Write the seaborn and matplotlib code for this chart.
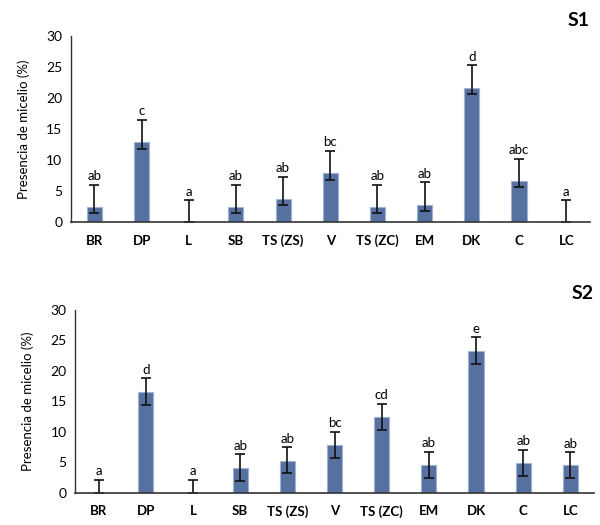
import numpy as np
import pandas as pd
import matplotlib
matplotlib.use("Agg")
import matplotlib.pyplot as plt
import seaborn as sns

# categories and values
categorias = ["BR", "DP", "L", "SB", "TS (ZS)", "V", "TS (ZC)", "EM", "DK", "C", "LC"]

s1_media = [2.45, 12.85, 0.0, 2.45, 3.65, 7.85, 2.45, 2.75, 21.7, 6.55, 0.0]
s1_err_sup = [3.6, 3.65, 3.5, 3.6, 3.7, 3.65, 3.6, 3.7, 3.6, 3.7, 3.5]
s1_err_inf = [0.95, 1.05, 0.0, 0.95, 0.95, 1.0, 0.95, 0.95, 1.0, 0.95, 0.0]
s1_letras = ["ab", "c", "a", "ab", "ab", "bc", "ab", "ab", "d", "abc", "a"]

s2_media = [0.0, 16.5, 0.0, 4.1, 5.3, 7.9, 12.45, 4.5, 23.3, 4.95, 4.5]
s2_err_sup = [2.2, 2.25, 2.2, 2.2, 2.2, 2.1, 2.15, 2.25, 2.2, 2.15, 2.2]
s2_err_inf = [0.0, 2.05, 0.0, 2.1, 2.0, 2.1, 2.15, 2.1, 2.2, 2.15, 2.1]
s2_letras = ["a", "d", "a", "ab", "ab", "bc", "cd", "ab", "e", "ab", "ab"]

paneles = ["S1", "S2"]

sns.set_theme(style="white")
plt.rcParams["font.family"] = ["Lato", "DejaVu Sans"]

color_barra = "#56709f"
color_borde = "#9fb2d4"
color_texto = "#000000"


def dibujar_panel(ax, media, err_sup, err_inf, letras, titulo):
    df = pd.DataFrame({"cat": categorias, "valor": media})
    sns.barplot(data=df, x="cat", y="valor", order=categorias, color=color_barra,
                width=0.32, saturation=1, edgecolor=color_borde, linewidth=0.8,
                errorbar=None, ax=ax)
    x = np.arange(len(categorias))
    ax.errorbar(x, media, yerr=[err_inf, err_sup], fmt="none", ecolor="#111111",
                elinewidth=1.2, capsize=3.5, capthick=1.2)
    for xi, m, e, t in zip(x, media, err_sup, letras):
        ax.text(xi, m + e + 0.4, t, ha="center", va="bottom", fontsize=9.5, color=color_texto)

    ax.set_xlim(-0.5, len(categorias) - 0.5)
    ax.set_ylim(0, 30)
    ax.set_yticks([0, 5, 10, 15, 20, 25, 30])
    ax.set_xlabel("")
    ax.set_ylabel("Presencia de micelio (%)", fontsize=9.5, labelpad=12, color=color_texto)
    ax.tick_params(axis="y", labelsize=10, length=0, pad=6, labelcolor=color_texto)
    ax.tick_params(axis="x", length=0, pad=9, labelcolor=color_texto)
    for lab in ax.get_xticklabels():
        lab.set_fontweight("bold")
        lab.set_fontsize(9.5)
    sns.despine(ax=ax)
    ax.spines["left"].set_color("#333333")
    ax.spines["bottom"].set_color("#333333")
    ax.spines["left"].set_linewidth(1.0)
    ax.spines["bottom"].set_linewidth(1.2)
    ax.text(1.0, 1.04, titulo, transform=ax.transAxes, ha="right", va="bottom",
            fontsize=14, fontweight="bold", color=color_texto)


fig = plt.figure(figsize=(6, 5.25), dpi=100)
ax1 = fig.add_axes([0.118, 0.577, 0.865, 0.354])
ax2 = fig.add_axes([0.125, 0.061, 0.865, 0.349])

dibujar_panel(ax1, s1_media, s1_err_sup, s1_err_inf, s1_letras, paneles[0])
dibujar_panel(ax2, s2_media, s2_err_sup, s2_err_inf, s2_letras, paneles[1])

fig.savefig("out.png", dpi=100)
